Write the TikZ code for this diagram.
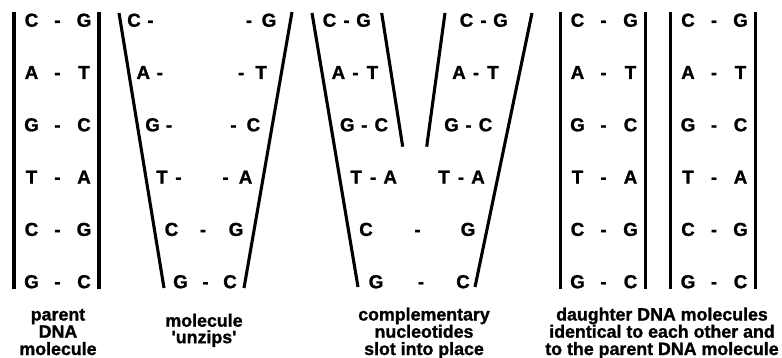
\documentclass[tikz,border=0pt]{standalone}
\usepackage{fontspec}
\setmainfont{Liberation Sans}[Ligatures=TeXOff, BoldFeatures={FakeBold=1.2}]
\begin{document}
\begin{tikzpicture}[x=1pt,y=-1pt,
  strand/.style={line width=3.1pt, line cap=butt},
  base/.style={font=\fontsize{18.8}{18.8}\selectfont\bfseries, anchor=base, inner sep=0pt},
  capline/.style={font=\fontsize{17.8}{17.7}\selectfont\bfseries, anchor=base, inner sep=0pt}]
\useasboundingbox (0,0) rectangle (782,358);

% ---------- panel 1: parent molecule ----------
\draw[strand] (14,12) -- (14,289);
\draw[strand] (99,12) -- (99,289);
\foreach \l/\r [count=\i from 0] in {C/G,A/T,G/C,T/A,C/G,G/C} {
  \pgfmathsetmacro\yb{26.7+52.3*\i}
  \node[base] (pa-l\i) at (31.5,\yb) {\l};
  \node[base] (pa-d\i) at (57.5,\yb) {-};
  \node[base] (pa-r\i) at (84,\yb) {\r};
}
\node[capline] (pa-t1) at (58,320.5) {parent};
\node[capline] (pa-t2) at (58,337.7) {DNA};
\node[capline] (pa-t3) at (58,355) {molecule};

% ---------- panel 2: unzipping ----------
\draw[strand] (119,13) -- (164,288);
\draw[strand] (292,12) -- (244,288);
\foreach \l/\r [count=\i from 0] in {C/G,A/T,G/C,T/A} {
  \pgfmathsetmacro\yb{26.7+52.3*\i}
  \pgfmathsetmacro\xl{134+9.3*\i}
  \pgfmathsetmacro\xr{269-7.8*\i}
  \node[base] (pb-l\i) at (\xl,\yb) {\l};
  \node[base] (pb-dl\i) at (\xl+16.5,\yb) {-};
  \node[base] (pb-dr\i) at (\xr-20,\yb) {-};
  \node[base] (pb-r\i) at (\xr,\yb) {\r};
}
\node[base] (pb-l4) at (171.5,235.9) {C};
\node[base] (pb-d4) at (203,235.9) {-};
\node[base] (pb-r4) at (236,235.9) {G};
\node[base] (pb-l5) at (180.5,288.2) {G};
\node[base] (pb-d5) at (205.5,288.2) {-};
\node[base] (pb-r5) at (230,288.2) {C};
\node[capline] (pb-t1) at (204,326.7) {molecule};
\node[capline] (pb-t2) at (204,343.2) {'unzips'};

% ---------- panel 3: complementary nucleotides ----------
\draw[strand] (312,13) -- (358,287);
\draw[strand] (381.7,13) -- (402.7,146.7);
\draw[strand] (445,13) -- (426.7,146.7);
\draw[strand] (532,13) -- (475,287);
\foreach \l/\r [count=\i from 0] in {C/G,A/T,G/C,T/A} {
  \pgfmathsetmacro\yb{26.7+52.3*\i}
  \pgfmathsetmacro\cl{346.5+8.9*\i}
  \pgfmathsetmacro\cr{483.5-7.5*\i}
  \node[base] (pc-ll\i) at (\cl-17,\yb) {\l};
  \node[base] (pc-ld\i) at (\cl,\yb) {-};
  \node[base] (pc-lr\i) at (\cl+17,\yb) {\r};
  \node[base] (pc-rl\i) at (\cr-17,\yb) {\l};
  \node[base] (pc-rd\i) at (\cr,\yb) {-};
  \node[base] (pc-rr\i) at (\cr+17,\yb) {\r};
}
\node[base] (pc-l4) at (366,235.9) {C};
\node[base] (pc-d4) at (417.5,235.9) {-};
\node[base] (pc-r4) at (468,235.9) {G};
\node[base] (pc-l5) at (376,288.2) {G};
\node[base] (pc-d5) at (421,288.2) {-};
\node[base] (pc-r5) at (463,288.2) {C};
\node[capline] (pc-t1) at (424,320.5) {complementary};
\node[capline] (pc-t2) at (424,337.7) {nucleotides};
\node[capline] (pc-t3) at (424,355) {slot into place};

% ---------- panel 4: daughter molecules ----------
\draw[strand] (560.5,12) -- (560.5,289);
\draw[strand] (645.5,12) -- (645.5,289);
\draw[strand] (670.5,12) -- (670.5,289);
\draw[strand] (755.5,12) -- (755.5,289);
\foreach \l/\r [count=\i from 0] in {C/G,A/T,G/C,T/A,C/G,G/C} {
  \pgfmathsetmacro\yb{26.7+52.3*\i}
  \node[base] (pd-l\i) at (577.5,\yb) {\l};
  \node[base] (pd-d\i) at (603.5,\yb) {-};
  \node[base] (pd-r\i) at (630.5,\yb) {\r};
  \node[base] (pe-l\i) at (688,\yb) {\l};
  \node[base] (pe-d\i) at (714,\yb) {-};
  \node[base] (pe-r\i) at (740.5,\yb) {\r};
}
\node[capline] (pd-t1) at (662,320.5) {daughter DNA molecules};
\node[capline] (pd-t2) at (662,337.7) {identical to each other and};
\node[capline] (pd-t3) at (662,355) {to the parent DNA molecule};
\end{tikzpicture}
\end{document}
